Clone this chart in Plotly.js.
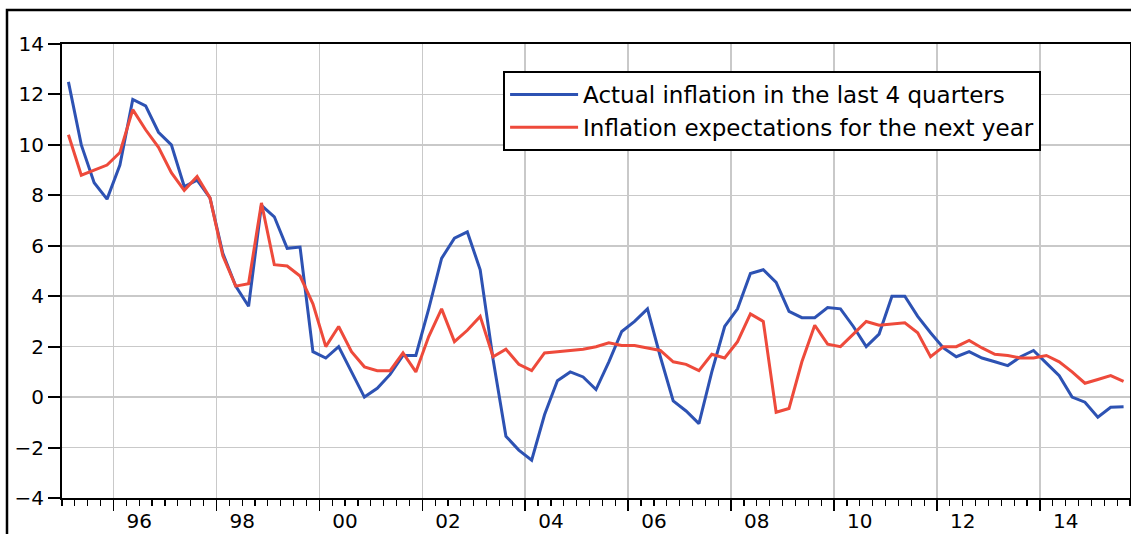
<!DOCTYPE html>
<html>
<head>
<meta charset="utf-8">
<script src="https://cdn.plot.ly/plotly-3.0.1.min.js"></script>
<style>
html,body{margin:0;padding:0;background:#fff;}
#chart{width:1131px;height:534px;}
</style>
</head>
<body>
<div id="chart"></div>
<script>
// Quarterly observations 1995Q1 .. 2015Q3
const firstYear = 1995;
const nQuarters = 83;
const quarters = [];
for (let i = 0; i < nQuarters; i++) {
  quarters.push((firstYear + Math.floor(i / 4)) + 'Q' + (i % 4 + 1));
}

// Actual inflation in the last 4 quarters (%)
const actualInflation = [
  12.5, 10.0, 8.5, 7.85, 9.2, 11.8, 11.55, 10.5,
  10.0, 8.35, 8.6, 7.9, 5.7, 4.4, 3.6, 7.6,
  7.15, 5.9, 5.95, 1.8, 1.55, 2.0, 1.0, 0.0,
  0.35, 0.9, 1.65, 1.65, 3.5, 5.5, 6.3, 6.55,
  5.05, 1.5, -1.55, -2.1, -2.5, -0.7, 0.65, 1.0,
  0.8, 0.3, 1.4, 2.6, 3.0, 3.5, 1.6, -0.15,
  -0.55, -1.05, 1.0, 2.8, 3.5, 4.9, 5.05, 4.55,
  3.4, 3.15, 3.15, 3.55, 3.5, 2.8, 2.0, 2.5,
  4.0, 4.0, 3.2, 2.55, 1.95, 1.6, 1.8, 1.55,
  1.4, 1.25, 1.6, 1.85, 1.35, 0.85, 0.0, -0.2,
  -0.8, -0.4, -0.38
];

// Inflation expectations for the next year (%)
const expectedInflation = [
  10.4, 8.8, 9.0, 9.2, 9.7, 11.4, 10.6, 9.9,
  8.9, 8.2, 8.75, 7.9, 5.6, 4.4, 4.5, 7.7,
  5.25, 5.2, 4.8, 3.7, 2.0, 2.8, 1.8, 1.2,
  1.05, 1.05, 1.75, 1.0, 2.4, 3.5, 2.2, 2.65,
  3.2, 1.6, 1.9, 1.3, 1.05, 1.75, 1.8, 1.85,
  1.9, 2.0, 2.15, 2.05, 2.05, 1.95, 1.85, 1.4,
  1.3, 1.05, 1.7, 1.55, 2.2, 3.3, 3.0, -0.6,
  -0.45, 1.4, 2.85, 2.1, 2.0, 2.5, 3.0, 2.85,
  2.9, 2.95, 2.55, 1.6, 2.0, 2.0, 2.25, 1.95,
  1.7, 1.65, 1.55, 1.55, 1.65, 1.4, 1.0, 0.55,
  0.7, 0.85, 0.62
];

const seriesNames = ['Actual inflation in the last 4 quarters', 'Inflation expectations for the next year'];
const yearLabelVals = [1996.5, 1998.5, 2000.5, 2002.5, 2004.5, 2006.5, 2008.5, 2010.5, 2012.5, 2014.5];
const yearLabels = ['96', '98', '00', '02', '04', '06', '08', '10', '12', '14'];

// quarter label -> mid-quarter position on a continuous year axis
function quarterPos(q) {
  const y = parseInt(q.slice(0, 4), 10);
  const k = parseInt(q.slice(5), 10);
  return y + (k - 1) / 4 + 0.125;
}
const xPos = quarters.map(quarterPos);

const FONT = 'DejaVu Sans, Arial, sans-serif';
const GRID = '#c9c9c9';
const xRange = [1995, 2015.75];

const traces = [
  {x: xPos, y: actualInflation, name: seriesNames[0], type: 'scatter', mode: 'lines',
   line: {color: '#2d52b3', width: 3}, xaxis: 'x', yaxis: 'y'},
  {x: xPos, y: expectedInflation, name: seriesNames[1], type: 'scatter', mode: 'lines',
   line: {color: '#ee4a3b', width: 3}, xaxis: 'x', yaxis: 'y'},
  // empty helper so the year-label axis is laid out
  {x: [], y: [], type: 'scatter', mode: 'lines', xaxis: 'x2', yaxis: 'y',
   showlegend: false, hoverinfo: 'skip'}
];

const layout = {
  width: 1131, height: 534,
  margin: {l: 62, r: 1, t: 44, b: 36, pad: 0},
  paper_bgcolor: '#ffffff', plot_bgcolor: '#ffffff',
  font: {family: FONT, size: 20, color: '#000'},
  showlegend: true,
  legend: {
    x: 0.413, y: 0.9405, xanchor: 'left', yanchor: 'top',
    bgcolor: '#ffffff', bordercolor: '#000000', borderwidth: 2,
    font: {family: FONT, size: 23, color: '#000'},
    itemwidth: 68, tracegroupgap: 0
  },
  xaxis: {
    range: xRange, tickmode: 'linear', tick0: 1996, dtick: 2,
    showticklabels: false, ticks: 'outside', ticklen: 11, tickwidth: 1.5, tickcolor: '#000',
    showgrid: true, gridcolor: GRID, gridwidth: 1.5, zeroline: false,
    showline: true, linecolor: '#000', linewidth: 2, mirror: true,
    minor: {tickmode: 'linear', tick0: 1995, dtick: 0.25, ticks: 'outside', ticklen: 6,
            tickwidth: 1.2, tickcolor: '#000', showgrid: false}
  },
  xaxis2: {
    overlaying: 'x', anchor: 'y', side: 'bottom', range: xRange,
    tickmode: 'array', tickvals: yearLabelVals, ticktext: yearLabels,
    ticks: 'outside', ticklen: 5, tickcolor: 'rgba(0,0,0,0)',
    showgrid: false, zeroline: false, showline: false,
    tickfont: {family: FONT, size: 20, color: '#000'}
  },
  yaxis: {
    range: [-4, 14], tickmode: 'linear', tick0: -4, dtick: 2,
    ticks: 'outside', ticklen: 12, tickwidth: 2, tickcolor: '#000',
    showgrid: true, gridcolor: GRID, gridwidth: 1.5, zeroline: false,
    showline: true, linecolor: '#000', linewidth: 2, mirror: true,
    tickfont: {family: FONT, size: 20, color: '#000'}
  },
  shapes: [
    {type: 'rect', xref: 'paper', yref: 'paper', x0: -0.0515, x1: 1.02, y0: -0.2, y1: 1.0749,
     line: {color: '#000', width: 2.5}, fillcolor: 'rgba(0,0,0,0)', layer: 'below'}
  ]
};

Plotly.newPlot('chart', traces, layout, {displayModeBar: false, staticPlot: true});
</script>
</body>
</html>
